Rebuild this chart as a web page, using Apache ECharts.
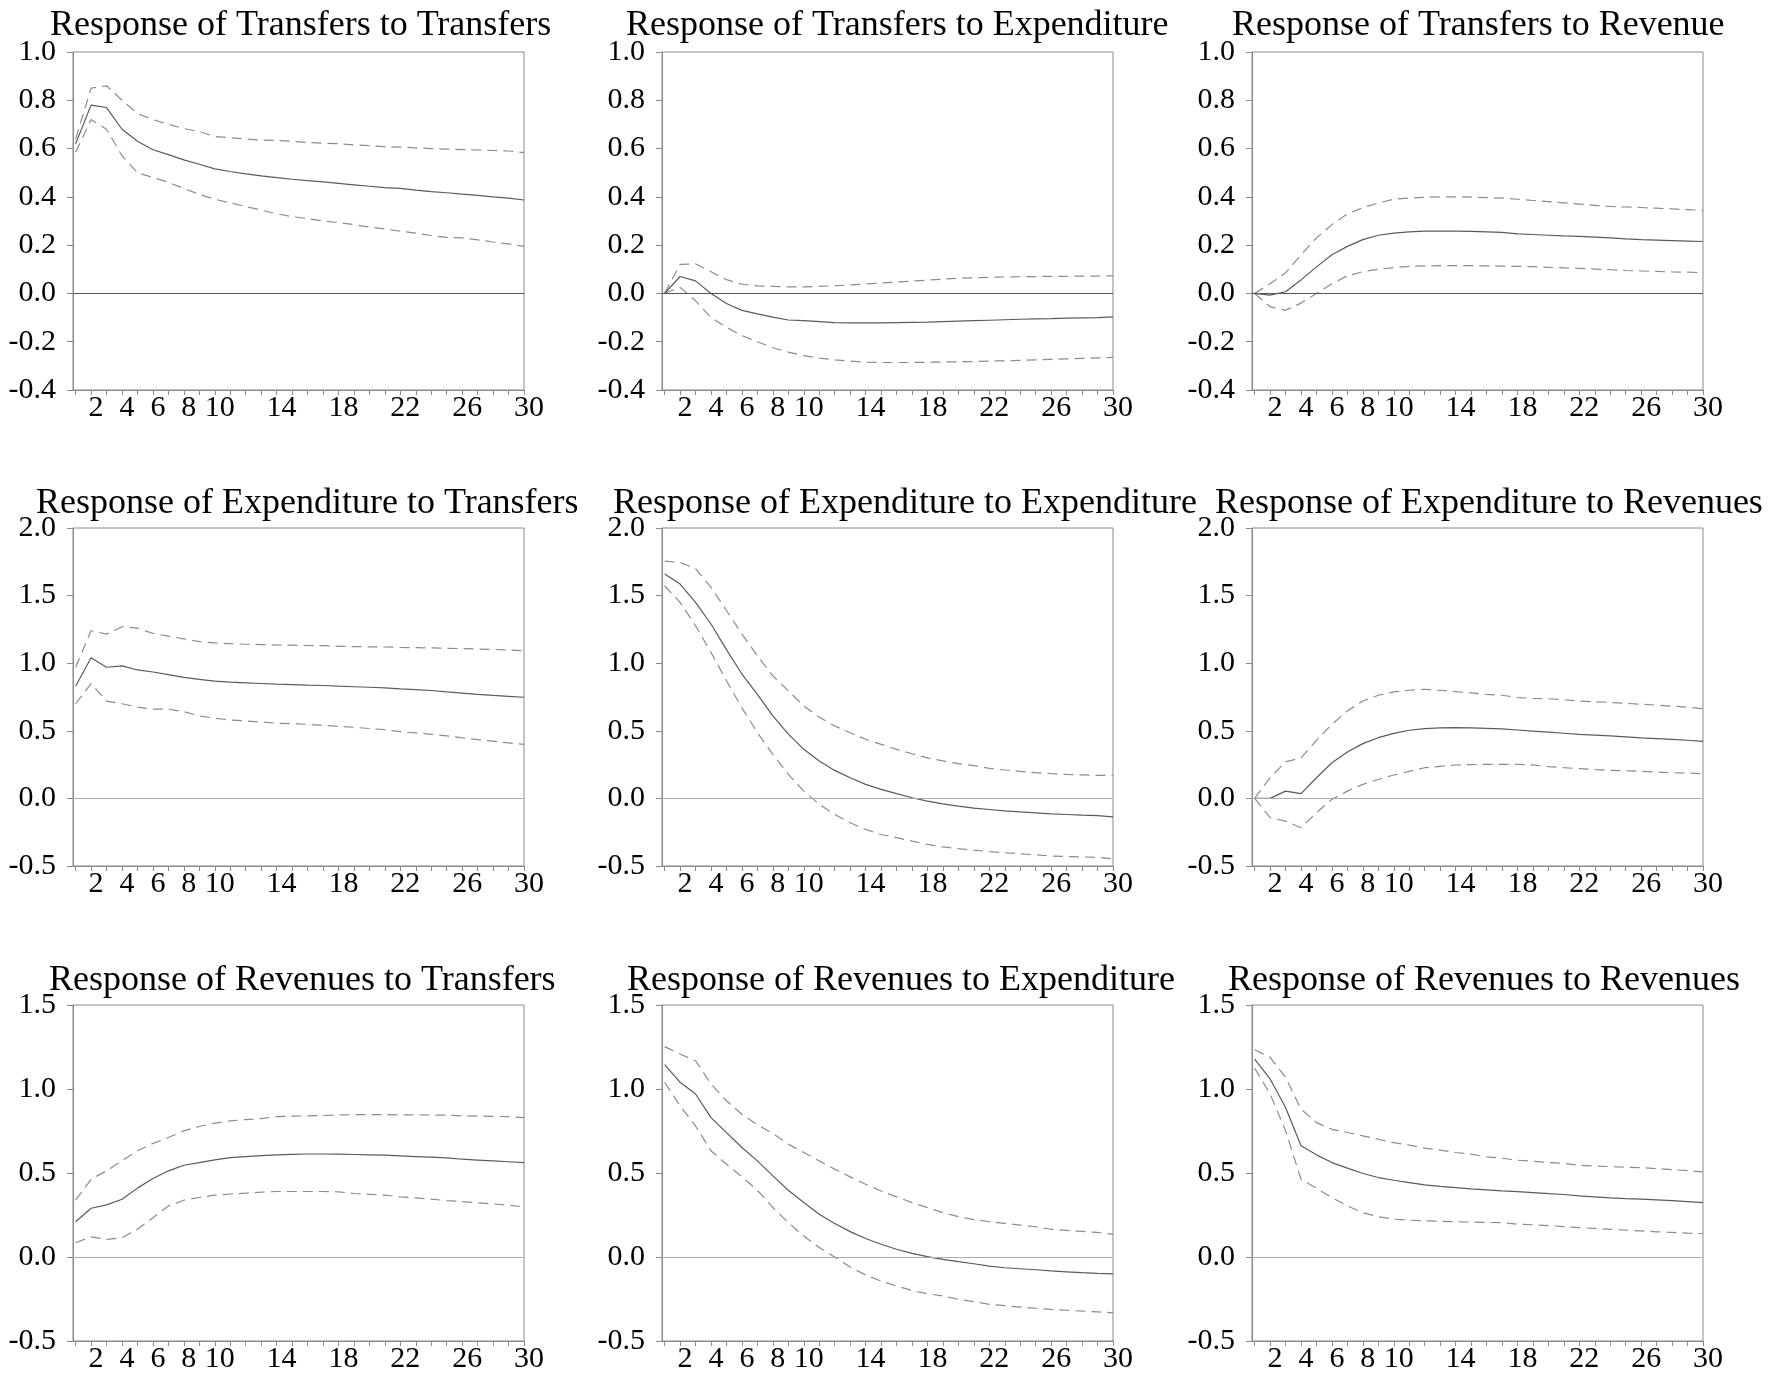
<!DOCTYPE html>
<html><head><meta charset="utf-8">
<script src="https://cdn.jsdelivr.net/npm/echarts@6/dist/echarts.min.js"></script>
<style>html,body{margin:0;padding:0;background:#fff}#c{width:1787px;height:1374px}</style>
</head><body><div id="c"></div><script>
// ---- data ----
const periods = [1,2,3,4,5,6,7,8,9,10,11,12,13,14,15,16,17,18,19,20,21,22,23,24,25,26,27,28,29,30];
const xTickLabels = [2,4,6,8,10,14,18,22,26,30];
const titles = [
  'Response of Transfers to Transfers','Response of Transfers to Expenditure','Response of Transfers to Revenue',
  'Response of Expenditure to Transfers','Response of Expenditure to Expenditure','Response of Expenditure to Revenues',
  'Response of Revenues to Transfers','Response of Revenues to Expenditure','Response of Revenues to Revenues'];
const yRange1 = [-0.4, 1.0, 0.2];
const yRange2 = [-0.5, 2.0, 0.5];
const yRange3 = [-0.5, 1.5, 0.5];

const T_T_irf = [0.62,0.78,0.77,0.68,0.63,0.595,0.575,0.553,0.535,0.516,0.505,0.495,0.487,0.48,0.473,0.467,0.462,0.456,0.45,0.444,0.438,0.435,0.428,0.422,0.417,0.411,0.406,0.40,0.395,0.387];
const T_T_up  = [0.64,0.85,0.86,0.80,0.745,0.72,0.70,0.683,0.67,0.65,0.645,0.64,0.635,0.634,0.63,0.625,0.622,0.62,0.615,0.612,0.608,0.606,0.603,0.60,0.598,0.596,0.594,0.592,0.59,0.583];
const T_T_lo  = [0.585,0.72,0.68,0.57,0.50,0.48,0.46,0.435,0.41,0.39,0.375,0.36,0.345,0.33,0.318,0.31,0.30,0.293,0.285,0.275,0.267,0.258,0.25,0.24,0.232,0.23,0.222,0.213,0.205,0.195];

const T_E_irf = [0,0.07,0.052,0.0,-0.042,-0.07,-0.085,-0.098,-0.11,-0.113,-0.117,-0.121,-0.122,-0.122,-0.122,-0.121,-0.12,-0.119,-0.117,-0.115,-0.113,-0.111,-0.109,-0.107,-0.105,-0.104,-0.102,-0.101,-0.1,-0.097];
const T_E_up  = [0,0.12,0.123,0.09,0.057,0.038,0.031,0.029,0.027,0.027,0.029,0.032,0.035,0.039,0.043,0.047,0.051,0.055,0.059,0.063,0.065,0.067,0.068,0.069,0.07,0.071,0.071,0.072,0.072,0.073];
const T_E_lo  = [0,0.025,-0.03,-0.1,-0.14,-0.175,-0.2,-0.225,-0.243,-0.258,-0.268,-0.275,-0.28,-0.285,-0.286,-0.286,-0.286,-0.285,-0.284,-0.283,-0.282,-0.28,-0.279,-0.277,-0.275,-0.273,-0.271,-0.269,-0.267,-0.265];

const T_R_irf = [0,-0.007,0.007,0.056,0.11,0.16,0.195,0.223,0.241,0.25,0.255,0.258,0.258,0.258,0.257,0.255,0.253,0.247,0.244,0.241,0.238,0.236,0.233,0.23,0.226,0.223,0.221,0.219,0.217,0.215];
const T_R_up  = [0,0.04,0.085,0.16,0.23,0.285,0.33,0.355,0.375,0.39,0.395,0.398,0.4,0.4,0.399,0.397,0.395,0.39,0.385,0.38,0.375,0.37,0.365,0.36,0.358,0.356,0.353,0.35,0.347,0.344];
const T_R_lo  = [0,-0.055,-0.07,-0.04,0.0,0.04,0.073,0.09,0.1,0.107,0.112,0.114,0.115,0.115,0.115,0.114,0.113,0.112,0.111,0.108,0.106,0.104,0.101,0.098,0.095,0.093,0.091,0.089,0.088,0.086];

const E_T_irf = [0.83,1.04,0.97,0.98,0.95,0.935,0.915,0.895,0.88,0.868,0.86,0.855,0.85,0.845,0.842,0.838,0.835,0.83,0.826,0.822,0.817,0.81,0.805,0.798,0.788,0.779,0.77,0.762,0.755,0.748];
const E_T_up  = [0.97,1.24,1.215,1.27,1.26,1.22,1.20,1.18,1.16,1.15,1.145,1.14,1.138,1.135,1.133,1.131,1.13,1.125,1.123,1.121,1.12,1.117,1.115,1.113,1.11,1.108,1.105,1.102,1.098,1.092];
const E_T_lo  = [0.70,0.85,0.72,0.70,0.675,0.66,0.66,0.642,0.61,0.593,0.58,0.573,0.565,0.556,0.552,0.548,0.54,0.533,0.526,0.517,0.508,0.494,0.484,0.474,0.463,0.448,0.435,0.423,0.41,0.40];

const E_E_irf = [1.66,1.585,1.45,1.29,1.10,0.92,0.77,0.61,0.475,0.363,0.277,0.207,0.153,0.104,0.067,0.035,0.005,-0.02,-0.04,-0.057,-0.072,-0.082,-0.092,-0.1,-0.107,-0.114,-0.119,-0.124,-0.128,-0.136];
const E_E_up  = [1.755,1.745,1.70,1.56,1.39,1.215,1.055,0.906,0.795,0.684,0.60,0.536,0.486,0.437,0.40,0.363,0.33,0.30,0.277,0.257,0.243,0.222,0.21,0.20,0.19,0.183,0.178,0.174,0.17,0.17];
const E_E_lo  = [1.573,1.45,1.277,1.08,0.87,0.67,0.486,0.326,0.178,0.054,-0.044,-0.119,-0.18,-0.23,-0.267,-0.29,-0.316,-0.34,-0.358,-0.372,-0.383,-0.393,-0.402,-0.41,-0.417,-0.427,-0.43,-0.433,-0.436,-0.447];

const E_R_irf = [0,0.0,0.054,0.035,0.153,0.264,0.343,0.405,0.449,0.481,0.504,0.516,0.521,0.523,0.521,0.518,0.514,0.506,0.498,0.49,0.482,0.474,0.468,0.462,0.455,0.448,0.442,0.436,0.43,0.422];
const E_R_up  = [0,0.153,0.27,0.30,0.43,0.548,0.647,0.72,0.763,0.788,0.80,0.807,0.80,0.79,0.78,0.77,0.763,0.746,0.74,0.737,0.73,0.72,0.715,0.71,0.703,0.696,0.69,0.682,0.675,0.664];
const E_R_lo  = [0,-0.143,-0.168,-0.217,-0.106,-0.007,0.054,0.104,0.14,0.173,0.2,0.227,0.237,0.247,0.25,0.252,0.252,0.252,0.248,0.235,0.227,0.22,0.213,0.207,0.204,0.2,0.195,0.19,0.187,0.183];

const R_T_irf = [0.21,0.29,0.31,0.344,0.41,0.467,0.513,0.546,0.562,0.578,0.592,0.598,0.603,0.608,0.611,0.613,0.613,0.612,0.61,0.608,0.606,0.602,0.598,0.594,0.59,0.582,0.577,0.572,0.567,0.562];
const R_T_up  = [0.338,0.463,0.513,0.572,0.632,0.676,0.711,0.751,0.777,0.797,0.81,0.818,0.824,0.836,0.838,0.84,0.842,0.846,0.847,0.848,0.848,0.846,0.846,0.845,0.844,0.84,0.839,0.837,0.835,0.83];
const R_T_lo  = [0.085,0.12,0.105,0.115,0.165,0.234,0.304,0.338,0.354,0.368,0.375,0.38,0.386,0.39,0.39,0.39,0.39,0.388,0.378,0.373,0.368,0.358,0.352,0.344,0.336,0.33,0.322,0.316,0.308,0.298];

const R_E_irf = [1.145,1.04,0.97,0.83,0.74,0.652,0.572,0.483,0.397,0.324,0.254,0.199,0.151,0.11,0.076,0.046,0.022,0.002,-0.014,-0.028,-0.04,-0.054,-0.064,-0.07,-0.076,-0.083,-0.088,-0.093,-0.097,-0.1];
const R_E_up  = [1.252,1.208,1.168,1.03,0.93,0.85,0.787,0.735,0.672,0.622,0.572,0.523,0.477,0.433,0.393,0.358,0.324,0.294,0.264,0.24,0.223,0.21,0.2,0.19,0.18,0.165,0.158,0.152,0.146,0.135];
const R_E_lo  = [1.04,0.90,0.78,0.632,0.552,0.477,0.397,0.294,0.205,0.125,0.056,0.0,-0.06,-0.107,-0.143,-0.173,-0.199,-0.219,-0.232,-0.252,-0.266,-0.282,-0.29,-0.298,-0.305,-0.312,-0.317,-0.322,-0.327,-0.332];

const R_R_irf = [1.178,1.06,0.89,0.662,0.608,0.562,0.529,0.497,0.473,0.457,0.443,0.429,0.42,0.413,0.406,0.40,0.394,0.389,0.383,0.377,0.372,0.364,0.358,0.352,0.347,0.344,0.34,0.335,0.33,0.324];
const R_R_up  = [1.234,1.188,1.069,0.88,0.80,0.76,0.741,0.721,0.701,0.681,0.666,0.648,0.636,0.622,0.612,0.596,0.588,0.576,0.57,0.562,0.557,0.546,0.542,0.538,0.534,0.532,0.526,0.52,0.514,0.507];
const R_R_lo  = [1.125,0.97,0.751,0.463,0.409,0.354,0.304,0.264,0.24,0.225,0.219,0.216,0.213,0.21,0.208,0.206,0.204,0.195,0.192,0.187,0.181,0.175,0.17,0.165,0.16,0.155,0.15,0.146,0.142,0.139];

// ---- layout / style ----
const panels = [
  {irf:T_T_irf, up:T_T_up, lo:T_T_lo, y:yRange1},
  {irf:T_E_irf, up:T_E_up, lo:T_E_lo, y:yRange1},
  {irf:T_R_irf, up:T_R_up, lo:T_R_lo, y:yRange1},
  {irf:E_T_irf, up:E_T_up, lo:E_T_lo, y:yRange2},
  {irf:E_E_irf, up:E_E_up, lo:E_E_lo, y:yRange2},
  {irf:E_R_irf, up:E_R_up, lo:E_R_lo, y:yRange2},
  {irf:R_T_irf, up:R_T_up, lo:R_T_lo, y:yRange3},
  {irf:R_E_irf, up:R_E_up, lo:R_E_lo, y:yRange3},
  {irf:R_R_irf, up:R_R_up, lo:R_R_lo, y:yRange3}
];
const colLeft = [73, 662, 1252];
const gridW = 451;
const rowTop = [52, 528, 1005];
const rowH = [338, 338, 337];
const titleLeft = [50, 626, 1232, 36, 613, 1215, 49, 627, 1228];
const titleTop = [8, 486, 963];
const zeroColor = ['#555', '#aaa', '#aaa'];
const FONT = '"Liberation Serif", "Times New Roman", serif';

const option = {animation:false, backgroundColor:'#fff', title:[], grid:[], xAxis:[], yAxis:[], series:[]};
panels.forEach((p, i) => {
  const r = Math.floor(i/3), c = i%3;
  option.title.push({text:titles[i], left:titleLeft[i], top:titleTop[r], padding:0,
    textStyle:{fontFamily:FONT, fontSize:36, fontWeight:'normal', color:'#000'}});
  option.grid.push({left:colLeft[c], top:rowTop[r], width:gridW, height:rowH[r], show:true,
    borderColor:'#8a8a8a', borderWidth:1, backgroundColor:'transparent', containLabel:false});
  option.xAxis.push({type:'value', gridIndex:i, min:0.83, max:30, splitLine:{show:false},
    axisLine:{show:true, onZero:false, lineStyle:{color:'#8a8a8a', width:1}},
    axisTick:{show:true, inside:false, length:5, customValues:periods, lineStyle:{color:'#8a8a8a'}},
    axisLabel:{customValues:xTickLabels, fontFamily:FONT, fontSize:30, color:'#000', margin:3, padding:[0,0,0,10]}});
  option.yAxis.push({type:'value', gridIndex:i, min:p.y[0], max:p.y[1], interval:p.y[2], splitLine:{show:false},
    axisLine:{show:true, onZero:false, lineStyle:{color:'#8a8a8a', width:1}},
    axisTick:{show:true, inside:false, length:6, lineStyle:{color:'#8a8a8a'}},
    axisLabel:{fontFamily:FONT, fontSize:30, color:'#000', margin:17,
      formatter:v => (Math.abs(v) < 1e-9 ? '0.0' : v.toFixed(1))}});
  const mk = arr => periods.map((t, k) => [t, arr[k]]);
  option.series.push({type:'line', xAxisIndex:i, yAxisIndex:i, data:mk(p.up), showSymbol:false, silent:true,
    lineStyle:{color:'#8c8c8c', width:1.2, type:[10,6]}});
  option.series.push({type:'line', xAxisIndex:i, yAxisIndex:i, data:mk(p.lo), showSymbol:false, silent:true,
    lineStyle:{color:'#8c8c8c', width:1.2, type:[10,6]}});
  option.series.push({type:'line', xAxisIndex:i, yAxisIndex:i, data:mk(p.irf), showSymbol:false, silent:true,
    lineStyle:{color:'#5a5a5a', width:1.2, type:'solid'},
    markLine:{silent:true, symbol:['none','none'], label:{show:false}, animation:false,
      lineStyle:{type:'solid', color:zeroColor[r], width:1.2}, data:[{yAxis:0}]}});
});
const chart = echarts.init(document.getElementById('c'), null, {renderer:'canvas'});
chart.setOption(option);
</script></body></html>
